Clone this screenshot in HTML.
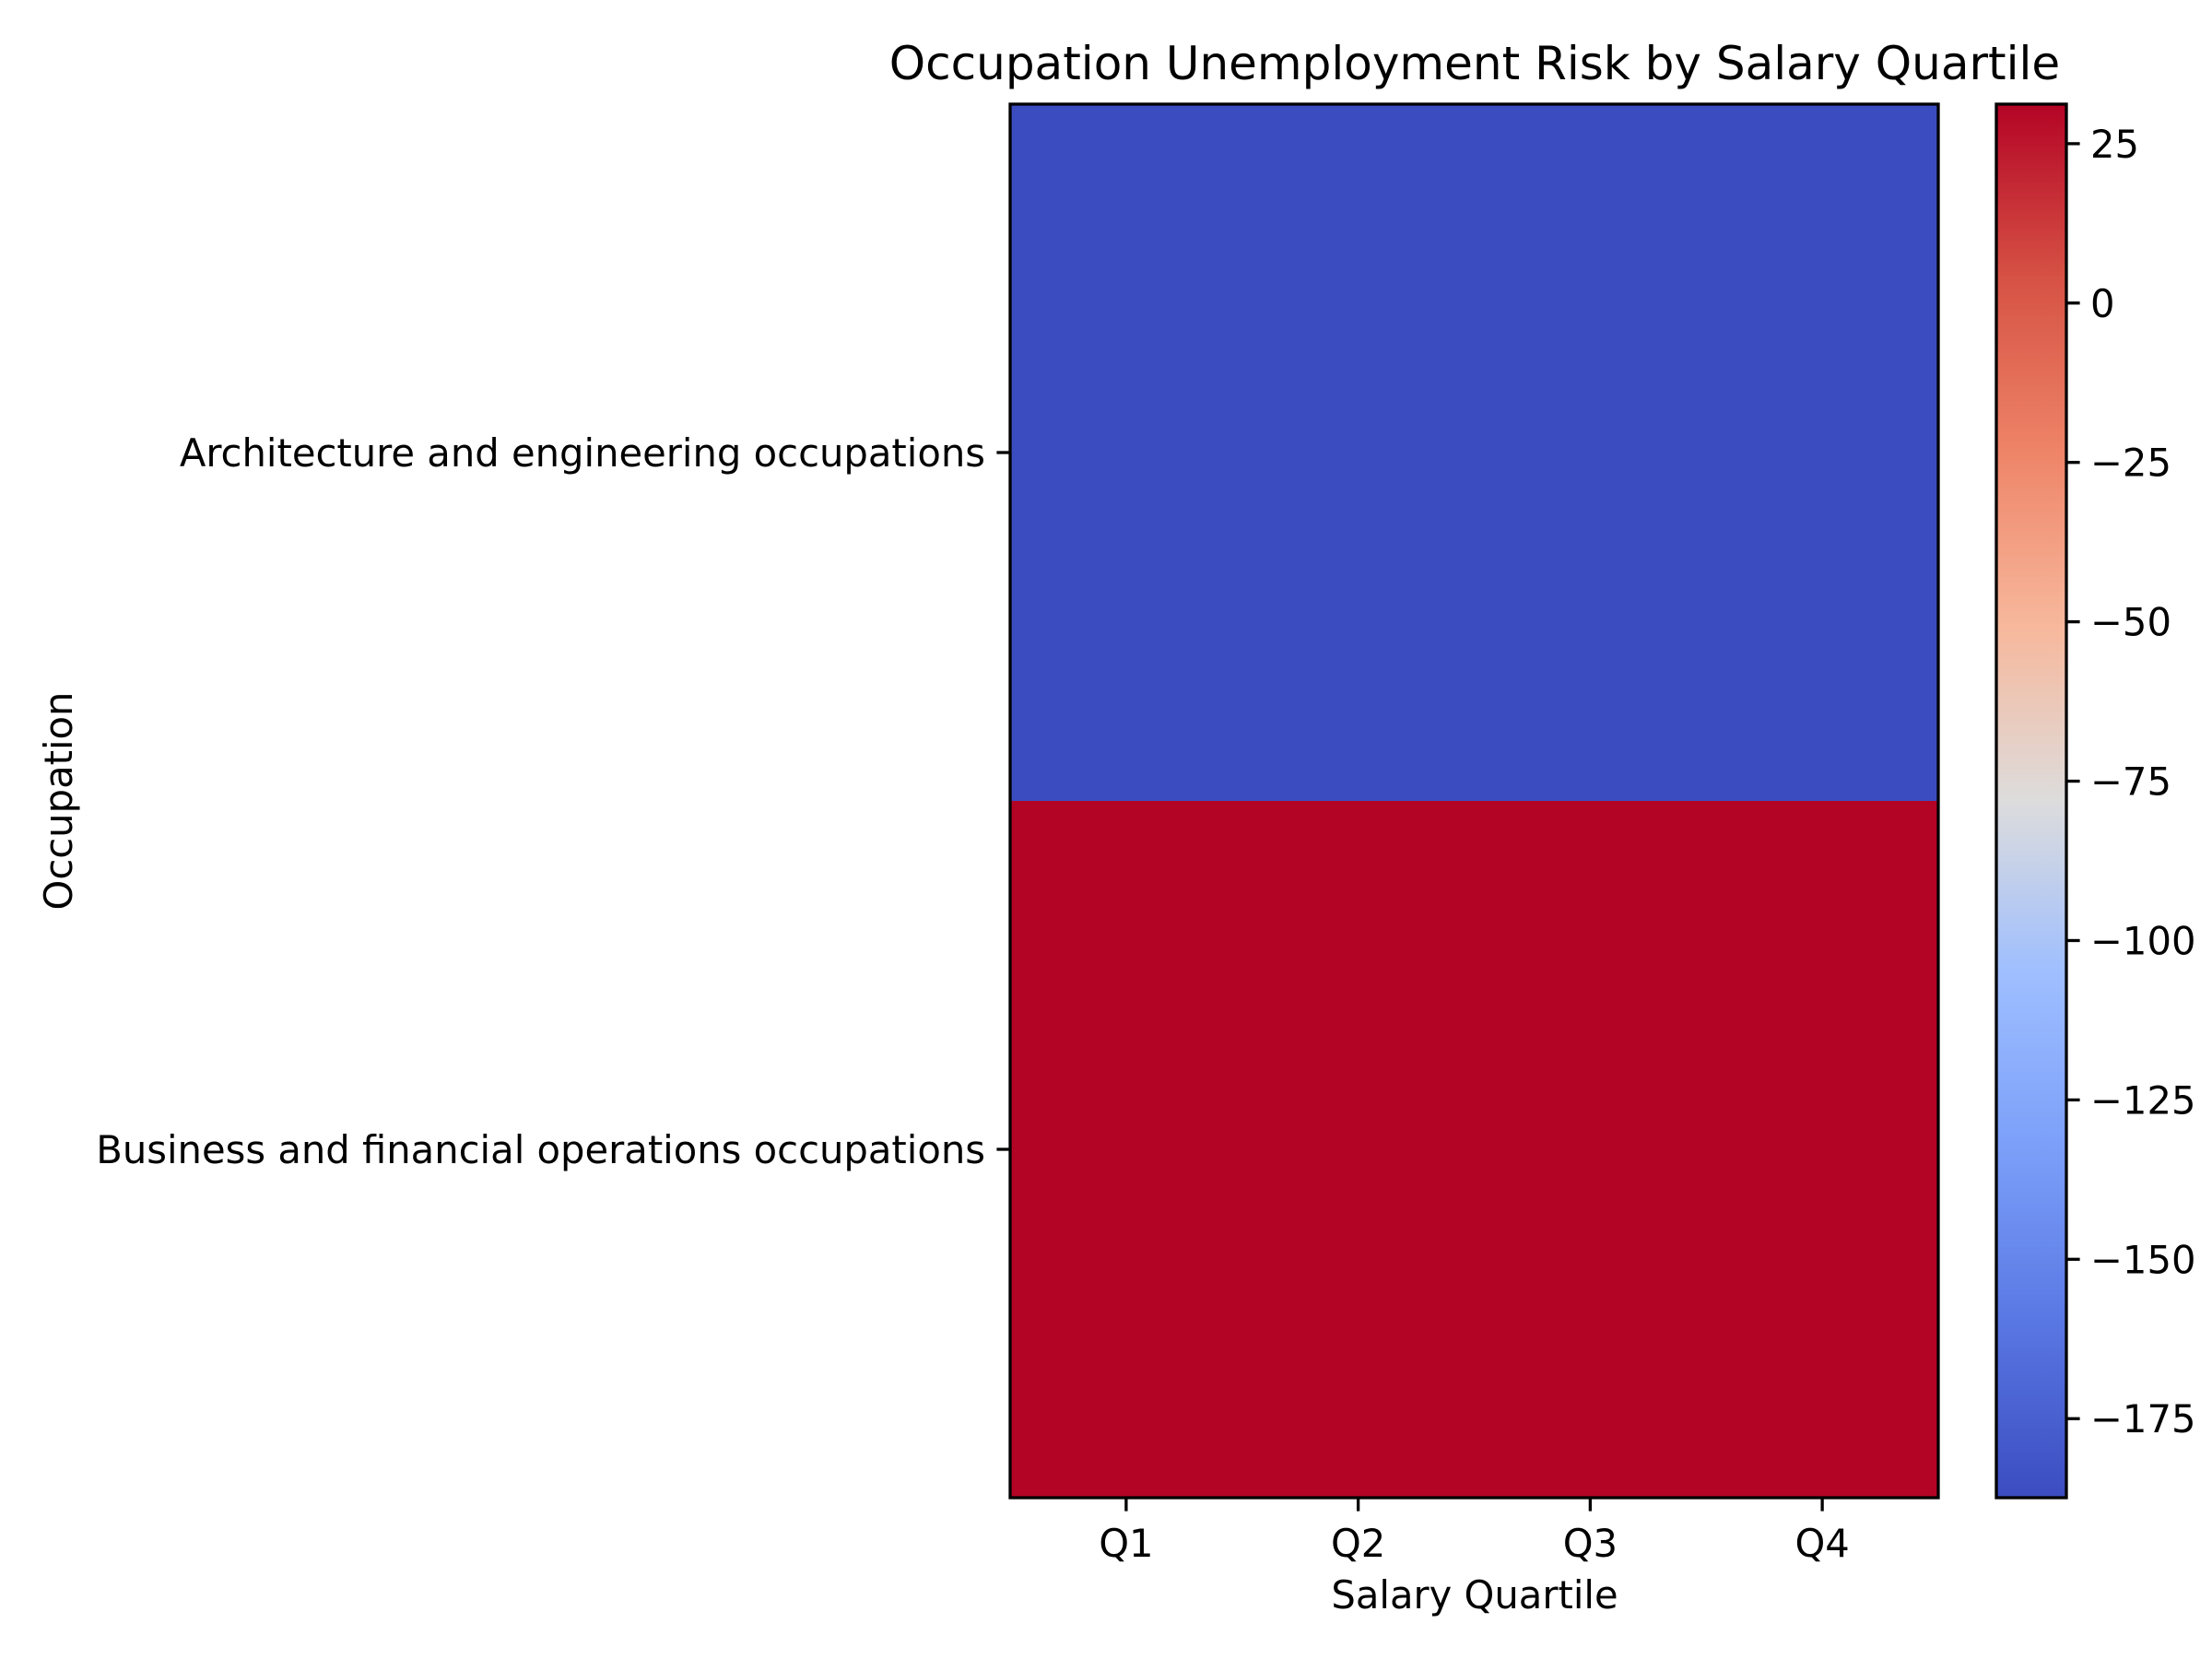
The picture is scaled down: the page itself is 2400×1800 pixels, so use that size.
<!DOCTYPE html>
<html><head><meta charset="utf-8">
<style>html,body{margin:0;padding:0;background:#fff}svg{display:block}text{font-family:"DejaVu Sans","Liberation Sans",sans-serif;fill:#000}</style>
</head><body>
<svg id="chart" width="2400" height="1800" viewBox="0 0 2400 1800" xmlns="http://www.w3.org/2000/svg">
<defs>
<linearGradient id="cw" x1="0" y1="1" x2="0" y2="0">
<stop offset="0" stop-color="#3b4cc0"/><stop offset="0.125" stop-color="#5977e3"/>
<stop offset="0.25" stop-color="#7b9ff9"/><stop offset="0.375" stop-color="#9ebeff"/>
<stop offset="0.5" stop-color="#dddcdc"/><stop offset="0.625" stop-color="#f7b89c"/>
<stop offset="0.75" stop-color="#ee8468"/><stop offset="0.875" stop-color="#d65244"/>
<stop offset="1" stop-color="#b40426"/>
</linearGradient>
</defs>
<text x="1600" y="86" font-size="50" text-anchor="middle">Occupation Unemployment Risk by Salary Quartile</text>
<g id="cells"></g>
<rect x="1096" y="113" width="1007" height="1512" fill="none" stroke="#000" stroke-width="3.3"/>
<g id="xt"></g><g id="yt"></g>
<text x="1600" y="1745" font-size="41.7" text-anchor="middle">Salary Quartile</text>
<text x="0" y="0" font-size="41.7" text-anchor="middle" transform="translate(78,869) rotate(-90)">Occupation</text>
<rect x="2166" y="113" width="76" height="1512" fill="url(#cw)" stroke="#000" stroke-width="3.3"/>
<g id="ct"></g>
</svg>
<script>
const quartiles = ["Q1","Q2","Q3","Q4"];
const occupations = ["Architecture and engineering occupations","Business and financial operations occupations"];
const rowArch = [-187.4,-187.4,-187.4,-187.4];
const rowBiz = [31.2,31.2,31.2,31.2];
const cbTicks = [25,0,-25,-50,-75,-100,-125,-150,-175];
const values = [rowArch,rowBiz];
const NS="http://www.w3.org/2000/svg";
const X0=1096,X1=2103,Y0=113,Y1=1625,CX0=2166,CX1=2242;
const all=values.flat();const vmin=Math.min(...all),vmax=Math.max(...all);
const stops=[[59,76,192],[89,119,227],[123,159,249],[158,190,255],[221,220,220],[247,184,156],[238,132,104],[214,82,68],[180,4,38]];
function cmap(v){let t=(v-vmin)/((vmax-vmin)||1);t=Math.max(0,Math.min(1,t))*8;const i=Math.min(7,Math.floor(t)),f=t-i;const a=stops[i],b=stops[i+1];return `rgb(${a.map((c,k)=>Math.round(c+(b[k]-c)*f)).join(',')})`;}
const cw=(X1-X0)/quartiles.length,ch=(Y1-Y0)/occupations.length;
const xS=i=>X0+cw*(i+0.5),yS=j=>Y0+ch*(j+0.5);
const cbY=v=>Y1-(v-vmin)/((vmax-vmin)||1)*(Y1-Y0);
function mk(t,at,p){const e=document.createElementNS(NS,t);for(const k in at)e.setAttribute(k,at[k]);p.appendChild(e);return e;}
const cells=document.getElementById('cells');
values.forEach((row,j)=>row.forEach((v,i)=>{const r=mk('rect',{x:X0+cw*i,y:Y0+ch*j,width:cw+0.5,height:ch+0.5,fill:cmap(v)},cells);

}));
const xt=document.getElementById('xt');
quartiles.forEach((q,i)=>{const l=mk('line',{x1:xS(i),x2:xS(i),y1:Y1,y2:Y1+14.6,stroke:'#000','stroke-width':3.3},xt);


const t=mk('text',{x:xS(i),y:Y1+64,'font-size':41.7,'text-anchor':'middle'},xt);t.textContent=q;

});
const yt=document.getElementById('yt');
occupations.forEach((o,j)=>{const l=mk('line',{x1:X0-14.6,x2:X0,y1:yS(j),y2:yS(j),stroke:'#000','stroke-width':3.3},yt);


const t=mk('text',{x:X0-27,y:yS(j)+15,'font-size':41.7,'text-anchor':'end'},yt);t.textContent=o;

});
const ct=document.getElementById('ct');
cbTicks.forEach(v=>{const y=cbY(v);if(y<Y0-1||y>Y1+1)return;
const l=mk('line',{x1:CX1,x2:CX1+14.6,y1:y,y2:y,stroke:'#000','stroke-width':3.3},ct);


const t=mk('text',{x:CX1+26,y:y+15,'font-size':41.7},ct);t.textContent=v<0?'\u2212'+Math.abs(v):String(v);

});
</script>
</body></html>
